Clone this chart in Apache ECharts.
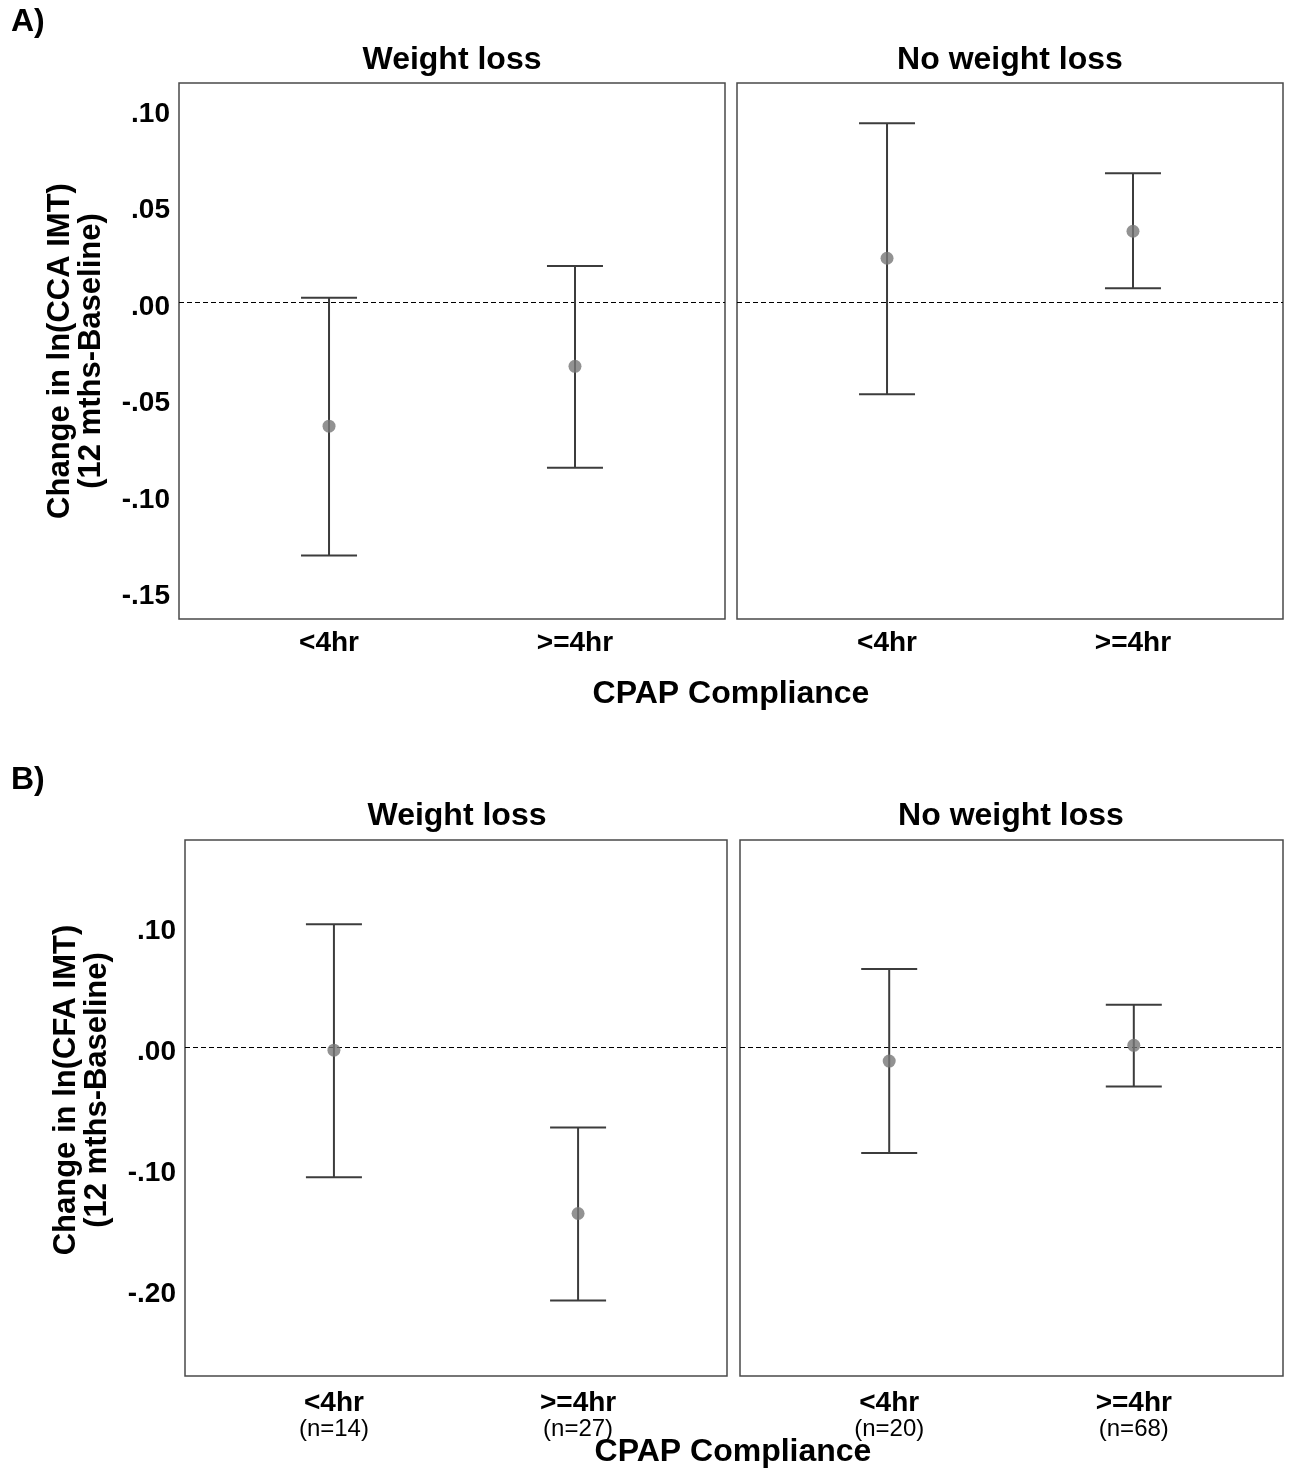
<!DOCTYPE html>
<html>
<head>
<meta charset="utf-8">
<title>CPAP compliance and IMT change</title>
<script src="https://cdn.jsdelivr.net/npm/echarts@6/dist/echarts.min.js"></script>
<style>
  html, body { margin: 0; padding: 0; background: #fff; }
  #chartmain { width: 1290px; height: 1469px; }
</style>
</head>
<body>
<div id="chartmain"></div>
<script>
// categories and groups
var categories = ['<4hr', '>=4hr'];
var facets = ['Weight loss', 'No weight loss'];

// order: weight loss <4hr, weight loss >=4hr, no weight loss <4hr, no weight loss >=4hr
var ccaMean = [-0.064, -0.033, 0.023, 0.037];
var ccaLow  = [-0.131, -0.0855, -0.0475, 0.0075];
var ccaHigh = [0.0025, 0.019, 0.093, 0.067];

var cfaMean = [-0.002, -0.137, -0.011, 0.002];
var cfaLow  = [-0.107, -0.209, -0.087, -0.032];
var cfaHigh = [0.102, -0.066, 0.065, 0.0355];
var cfaCounts = ['(n=14)', '(n=27)', '(n=20)', '(n=68)'];

// tick labels
var ccaTicks = [-0.15, -0.10, -0.05, 0, 0.05, 0.10];
var cfaTicks = [-0.20, -0.10, 0, 0.10];

var fontFam = '"Liberation Sans", Arial, sans-serif';

function tickFmt(v) {
    // SPSS style: .10, .00, -.05 (nudged down a little like the original)
    return '{t|' + Number(v).toFixed(2).replace('0.', '.') + '}';
}

function errorBar(params, api) {
    var x = api.value(0);
    var pLo = api.coord([x, api.value(1)]);
    var pHi = api.coord([x, api.value(2)]);
    var hw = 28;
    var st = { stroke: '#3c3c3c', lineWidth: 2 };
    return {
        type: 'group',
        children: [
            { type: 'line', shape: { x1: pLo[0], y1: pLo[1], x2: pHi[0], y2: pHi[1] }, style: st },
            { type: 'line', shape: { x1: pLo[0] - hw, y1: pLo[1], x2: pLo[0] + hw, y2: pLo[1] }, style: st },
            { type: 'line', shape: { x1: pHi[0] - hw, y1: pHi[1], x2: pHi[0] + hw, y2: pHi[1] }, style: st }
        ]
    };
}

var panels = [
    {
        means: ccaMean, lows: ccaLow, highs: ccaHigh, ticks: ccaTicks, counts: null,
        yName: 'Change in ln(CCA IMT)\n(12 mths-Baseline)', yMin: -0.1639, yMax: 0.1138,
        grids: [{ left: 179, top: 83, width: 546, height: 536 }, { left: 737, top: 83, width: 546, height: 536 }],
        namePad: [0, 0, 0, 0]
    },
    {
        means: cfaMean, lows: cfaLow, highs: cfaHigh, ticks: cfaTicks, counts: cfaCounts,
        yName: 'Change in ln(CFA IMT)\n(12 mths-Baseline)', yMin: -0.2713, yMax: 0.1717,
        grids: [{ left: 185, top: 840, width: 542, height: 536 }, { left: 740, top: 840, width: 543, height: 536 }],
        namePad: [0, 0, 0, 36]
    }
];

var grid = [], xAxis = [], yAxis = [], series = [];

panels.forEach(function (p) {
    p.grids.forEach(function (g, f) {
        var gi = grid.length;
        grid.push({
            left: g.left, top: g.top, width: g.width, height: g.height,
            show: true, borderColor: '#4a4a4a', borderWidth: 1.5, backgroundColor: '#fff'
        });
        var counts = p.counts;
        xAxis.push({
            gridIndex: gi, type: 'value', min: -0.61, max: 1.61,
            axisLine: { show: false }, axisTick: { show: false }, splitLine: { show: false },
            axisLabel: {
                customValues: [0, 1],
                margin: counts ? 13 : 10,
                color: '#000', fontFamily: fontFam, fontWeight: 'bold', fontSize: 28, lineHeight: 28,
                formatter: function (v) {
                    var i = Math.round(v);
                    if (!counts) return categories[i];
                    return categories[i] + '\n{n|' + counts[f * 2 + i] + '}';
                },
                rich: { n: { fontFamily: fontFam, fontWeight: 'normal', fontSize: 24, lineHeight: 25, color: '#000' } }
            }
        });
        yAxis.push({
            gridIndex: gi, type: 'value', min: p.yMin, max: p.yMax,
            axisLine: { show: false }, axisTick: { show: false }, splitLine: { show: false },
            axisLabel: {
                show: f === 0,
                customValues: p.ticks,
                margin: 9,
                formatter: tickFmt,
                rich: {
                    t: {
                        color: '#000', fontFamily: fontFam, fontWeight: 'bold', fontSize: 28,
                        lineHeight: 28, padding: [9, 0, 0, 0]
                    }
                }
            },
            name: f === 0 ? p.yName : '',
            nameLocation: 'middle', nameGap: 72, nameRotate: 90,
            nameTextStyle: {
                color: '#000', fontFamily: fontFam, fontWeight: 'bold', fontSize: 31, lineHeight: 31,
                align: 'center', padding: p.namePad
            }
        });
        var barData = [], dotData = [];
        categories.forEach(function (c, i) {
            var k = f * 2 + i;
            barData.push([i, p.lows[k], p.highs[k]]);
            dotData.push([i, p.means[k]]);
        });
        series.push({
            type: 'custom', xAxisIndex: gi, yAxisIndex: gi, silent: true,
            renderItem: errorBar, encode: { x: 0, y: [1, 2] }, data: barData, z: 3
        });
        series.push({
            type: 'scatter', xAxisIndex: gi, yAxisIndex: gi, silent: true,
            symbol: 'circle', symbolSize: 13, itemStyle: { color: '#777' },
            data: dotData, z: 4,
            markLine: {
                silent: true, symbol: 'none', label: { show: false },
                lineStyle: { color: '#000', type: [5, 3], width: 1.2 },
                data: [{ yAxis: 0 }], z: 2
            }
        });
    });
});

function txt(x, y, s, size, weight) {
    return {
        type: 'text', x: x, y: y, silent: true,
        style: {
            text: s, fill: '#000', align: 'center', verticalAlign: 'middle',
            font: (weight || 'bold') + ' ' + size + 'px ' + fontFam
        }
    };
}

var graphic = [
    { type: 'text', left: 11, top: 6, style: { text: 'A)', fill: '#000', font: 'bold 32px ' + fontFam } },
    { type: 'text', left: 11, top: 764, style: { text: 'B)', fill: '#000', font: 'bold 32px ' + fontFam } },
    txt(452, 60, facets[0], 32),
    txt(1010, 60, facets[1], 32),
    txt(731, 694, 'CPAP Compliance', 32),
    txt(457, 816, facets[0], 32),
    txt(1011, 816, facets[1], 32),
    txt(733, 1452, 'CPAP Compliance', 32)
];

var option = {
    backgroundColor: '#fff',
    animation: false,
    grid: grid,
    xAxis: xAxis,
    yAxis: yAxis,
    series: series,
    graphic: graphic
};

var myChart = echarts.init(document.getElementById('chartmain'));
myChart.setOption(option);
</script>
</body>
</html>
